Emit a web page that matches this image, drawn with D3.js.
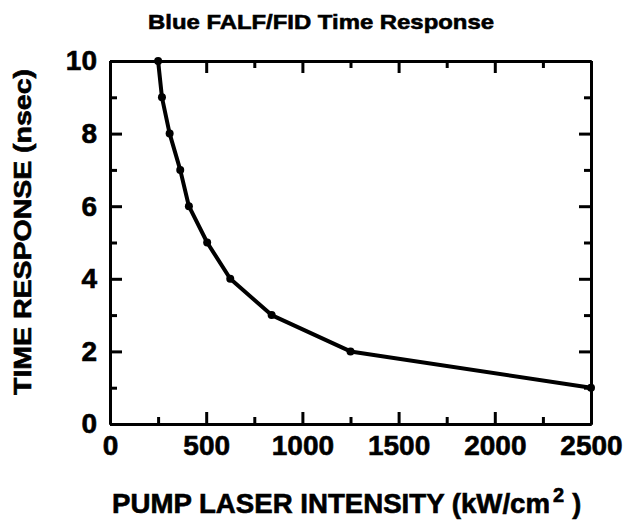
<!DOCTYPE html>
<html>
<head>
<meta charset="utf-8">
<script src="https://cdn.jsdelivr.net/npm/d3@7"></script>
<style>
  body { margin: 0; background: #fff; }
  text { font-family: "Liberation Sans", Arial, sans-serif; font-weight: bold; fill: #000; stroke: #000; stroke-width: 0.6px; }
</style>
</head>
<body>
<div id="graph"></div>
<script>
// intensité du laser de pompe (kW/cm2)
const intensity = [250, 270, 310, 365, 410, 505, 625, 840, 1250, 2500]
// temps de réponse (nsec)
const response = [10, 9, 8, 7, 6, 5, 4, 3, 2, 1]
// graduations
const xTicks = [0, 500, 1000, 1500, 2000, 2500]
const xMinorTicks = [250, 750, 1250, 1750, 2250]
const yTicks = [0, 2, 4, 6, 8, 10]
const yMinorTicks = [1, 3, 5, 7, 9]

const W = 623, H = 532
const margin = { top: 61, right: 32, bottom: 108, left: 110 }
const width = W - margin.left - margin.right
const height = H - margin.top - margin.bottom

const svg = d3.select("#graph")
    .append("svg")
    .attr("width", W)
    .attr("height", H)

const g = svg.append("g")
    .attr("transform", "translate(" + margin.left + "," + margin.top + ")")

let x = d3.scaleLinear().domain([0, 2500]).range([0, width])
let y = d3.scaleLinear().domain([0, 10]).range([height, 0])

/* ------------------------------------------------------------------------------
    AXES (graduations vers l'intérieur sur les quatre côtés)
------------------------------------------------------------------------------ */
const major = 12, minor = 7

// bas
g.append("g")
    .attr("class", "labels")
    .attr("transform", "translate(0," + height + ")")
    .call(d3.axisBottom(x).tickValues(xTicks).tickSizeInner(-major).tickSizeOuter(0).tickPadding(11).tickFormat(d3.format("d")))
g.append("g")
    .attr("transform", "translate(0," + height + ")")
    .call(d3.axisBottom(x).tickValues(xMinorTicks).tickSizeInner(-minor).tickSizeOuter(0).tickFormat(""))

// haut
g.append("g")
    .call(d3.axisTop(x).tickValues(xTicks).tickSizeInner(-major).tickSizeOuter(0).tickFormat(""))
g.append("g")
    .call(d3.axisTop(x).tickValues(xMinorTicks).tickSizeInner(-minor).tickSizeOuter(0).tickFormat(""))

// gauche
g.append("g")
    .attr("class", "labels")
    .call(d3.axisLeft(y).tickValues(yTicks).tickSizeInner(-major).tickSizeOuter(0).tickPadding(13).tickFormat(d3.format("d")))
g.append("g")
    .call(d3.axisLeft(y).tickValues(yMinorTicks).tickSizeInner(-minor).tickSizeOuter(0).tickFormat(""))

// droite
g.append("g")
    .attr("transform", "translate(" + width + ",0)")
    .call(d3.axisRight(y).tickValues(yTicks).tickSizeInner(-major).tickSizeOuter(0).tickFormat(""))
g.append("g")
    .attr("transform", "translate(" + width + ",0)")
    .call(d3.axisRight(y).tickValues(yMinorTicks).tickSizeInner(-minor).tickSizeOuter(0).tickFormat(""))

g.selectAll(".domain").attr("stroke", "#000").attr("stroke-width", 3)
g.selectAll(".tick line").attr("stroke", "#000").attr("stroke-width", 3)
g.selectAll(".labels text")
    .attr("font-family", null)
    .style("font-size", "28px")
    .attr("fill", "#000")

/* ------------------------------------------------------------------------------
    COURBE
------------------------------------------------------------------------------ */
const points = intensity.map((v, i) => [v, response[i]])

g.append("path")
    .datum(points)
    .attr("fill", "none")
    .attr("stroke", "#000")
    .attr("stroke-width", 4)
    .attr("stroke-linejoin", "round")
    .attr("d", d3.line().x(d => x(d[0])).y(d => y(d[1])))

g.selectAll(".dot")
    .data(points)
    .enter()
    .append("circle")
    .attr("cx", d => x(d[0]))
    .attr("cy", d => y(d[1]))
    .attr("r", 4)
    .attr("fill", "#000")

/* ------------------------------------------------------------------------------
    TEXTES
------------------------------------------------------------------------------ */
svg.append("text")
    .attr("x", 321)
    .attr("y", 29)
    .attr("text-anchor", "middle")
    .attr("textLength", 346)
    .attr("lengthAdjust", "spacingAndGlyphs")
    .style("font-size", "21px")
    .text("Blue FALF/FID Time Response")

svg.append("text")
    .attr("transform", "translate(31,232) rotate(-90)")
    .attr("text-anchor", "middle")
    .attr("textLength", 326)
    .attr("lengthAdjust", "spacingAndGlyphs")
    .style("font-size", "23px")
    .text("TIME RESPONSE (nsec)")

const xl = svg.append("text")
    .attr("x", 112)
    .attr("y", 513)
    .style("font-size", "27px")
xl.append("tspan")
    .attr("textLength", 438)
    .attr("lengthAdjust", "spacingAndGlyphs")
    .text("PUMP LASER INTENSITY (kW/cm")
xl.append("tspan").attr("dx", 3).attr("dy", -11).style("font-size", "20px").text("2")
xl.append("tspan").attr("dx", 8).attr("dy", 11).text(")")
</script>
</body>
</html>
